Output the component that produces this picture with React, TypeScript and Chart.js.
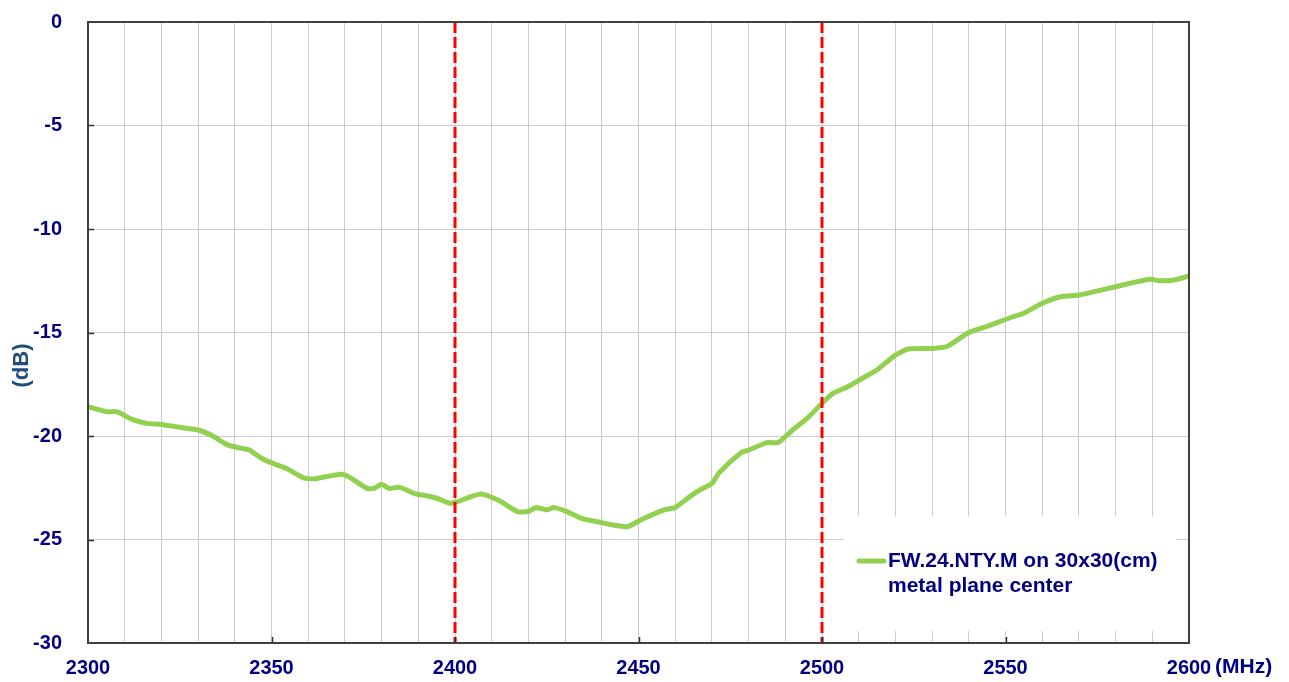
import React, { useEffect, useRef } from "react";
import { Chart, registerables } from "chart.js";

Chart.register(...registerables);

const freqMHz = [
  2300, 2305, 2308, 2312, 2316, 2320, 2325, 2330, 2334, 2338, 2342, 2344, 2347, 2350,
  2354, 2359, 2362, 2365, 2369, 2371, 2376, 2378, 2380, 2382, 2385, 2389, 2392, 2395,
  2398.6, 2400.5, 2407, 2412, 2417, 2420, 2422, 2425, 2427, 2430.5, 2434.5, 2439.5, 2443,
  2447, 2451, 2457, 2460, 2464, 2467, 2470, 2472, 2478, 2480, 2485, 2488, 2490.5, 2492,
  2496, 2500, 2503, 2507, 2511, 2515, 2520, 2523.5, 2530, 2534, 2540, 2546, 2552, 2555,
  2560, 2565, 2570, 2576, 2580, 2585, 2589.5, 2592, 2596, 2600,
];
const returnLossDb = [
  -18.58, -18.83, -18.83, -19.2, -19.39, -19.44, -19.58, -19.71, -20.0, -20.43, -20.6, -20.68, -21.05, -21.3,
  -21.56, -22.04, -22.06, -21.96, -21.85, -21.96, -22.53, -22.53, -22.33, -22.53, -22.48, -22.78, -22.88, -23.0,
  -23.25, -23.18, -22.8, -23.12, -23.65, -23.65, -23.45, -23.57, -23.46, -23.65, -23.98, -24.17, -24.3,
  -24.38, -24.02, -23.57, -23.45, -22.93, -22.58, -22.29, -21.77, -20.8, -20.68, -20.32, -20.32, -19.95, -19.71,
  -19.14, -18.42, -17.94, -17.62, -17.21, -16.81, -16.09, -15.8, -15.77, -15.68, -15.0, -14.64, -14.24, -14.07,
  -13.59, -13.27, -13.19, -12.95, -12.79, -12.58, -12.43, -12.5, -12.46, -12.27,
];
const markerFreqs = [2400, 2500];
const legendLines = ["FW.24.NTY.M on 30x30(cm)", "metal plane center"];
const xUnit = "(MHz)";
const yTitle = "(dB)";

const NAVY = "#000080";
const FONT = "Arial, 'Liberation Sans', sans-serif";

const legendLeft = (chart: any) => chart.chartArea.right - 345;

const decorPlugin = {
  id: "decor",
  beforeDatasetsDraw(chart: any) {
    const { ctx, chartArea } = chart;
    ctx.save();
    ctx.fillStyle = "#ffffff";
    const lx = legendLeft(chart);
    ctx.fillRect(lx, chartArea.bottom - 127, chartArea.right - 13 - lx, 115);
    ctx.restore();
  },
  afterDraw(chart: any) {
    const { ctx, chartArea } = chart;
    const xs = chart.scales.x;
    const ys = chart.scales.y;
    ctx.save();
    // inward major ticks
    ctx.strokeStyle = "#303030";
    ctx.lineWidth = 1.5;
    for (let v = -25; v <= -5; v += 5) {
      const py = Math.round(ys.getPixelForValue(v)) + 0.5;
      ctx.beginPath();
      ctx.moveTo(chartArea.left, py);
      ctx.lineTo(chartArea.left + 6, py);
      ctx.stroke();
    }
    for (let v = 2350; v <= 2550; v += 50) {
      const px = Math.round(xs.getPixelForValue(v)) + 0.5;
      ctx.beginPath();
      ctx.moveTo(px, chartArea.bottom);
      ctx.lineTo(px, chartArea.bottom - 6);
      ctx.stroke();
    }
    // plot border
    ctx.strokeStyle = "#404040";
    ctx.lineWidth = 2;
    ctx.strokeRect(chartArea.left, chartArea.top, chartArea.right - chartArea.left, chartArea.bottom - chartArea.top);

    // legend
    const lx = legendLeft(chart);
    const ly1 = chartArea.bottom - 82;
    ctx.strokeStyle = "#92D050";
    ctx.lineWidth = 5;
    ctx.lineCap = "round";
    ctx.beginPath();
    ctx.moveTo(lx + 15, ly1);
    ctx.lineTo(lx + 40, ly1);
    ctx.stroke();
    ctx.fillStyle = NAVY;
    ctx.font = `bold 21px ${FONT}`;
    ctx.textAlign = "left";
    ctx.textBaseline = "middle";
    ctx.fillText(legendLines[0], lx + 44, ly1);
    ctx.fillText(legendLines[1], lx + 44, ly1 + 25);

    // x unit
    ctx.font = `bold 21px ${FONT}`;
    ctx.fillText(xUnit, chartArea.right + 26, chartArea.bottom + 24);

    // y title
    ctx.fillStyle = "#1F4E79";
    ctx.font = `bold 22px ${FONT}`;
    ctx.translate(22, (chartArea.top + chartArea.bottom) / 2 + 33);
    ctx.rotate(-Math.PI / 2);
    ctx.textAlign = "center";
    ctx.fillText(yTitle, 0, 0);
    ctx.restore();
  },
};

export default function App() {
  const ref = useRef<HTMLCanvasElement | null>(null);
  useEffect(() => {
    if (!ref.current) return;
    const points = freqMHz.map((f, i) => ({ x: f, y: returnLossDb[i] }));
    const markerSets = markerFreqs.map((f) => ({
      label: `m${f}`,
      data: [
        { x: f, y: 0 },
        { x: f, y: -30 },
      ],
      borderColor: "#FF0000",
      borderWidth: 3,
      borderDash: [11, 4],
      pointRadius: 0,
      order: 0,
    }));
    const chart = new Chart(ref.current, {
      type: "line",
      data: {
        datasets: [
          ...markerSets,
          {
            label: legendLines.join(" "),
            data: points,
            borderColor: "#92D050",
            borderWidth: 5,
            pointRadius: 0,
            tension: 0.2,
            order: 1,
          },
        ],
      },
      options: {
        animation: false,
        responsive: false,
        devicePixelRatio: 1,
        layout: { padding: { top: 22, right: 100, left: 0, bottom: 0 } },
        plugins: { legend: { display: false }, tooltip: { enabled: false } },
        scales: {
          x: {
            type: "linear",
            min: 2300,
            max: 2600,
            afterFit: (s: any) => {
              s.height = 39;
              s.paddingLeft = 0;
              s.paddingRight = 0;
            },
            ticks: {
              stepSize: 10,
              autoSkip: false,
              maxRotation: 0,
              padding: 13,
              color: NAVY,
              font: { family: FONT, size: 20, weight: "bold" },
              callback: (v: any) => (Number(v) % 50 === 0 ? String(v) : ""),
            },
            grid: { color: "#cccccc", lineWidth: 1, drawTicks: false },
            border: { display: false },
          },
          y: {
            type: "linear",
            min: -30,
            max: 0,
            afterFit: (s: any) => {
              s.width = 88;
              s.paddingTop = 0;
              s.paddingBottom = 0;
            },
            ticks: {
              stepSize: 5,
              padding: 26,
              color: NAVY,
              font: { family: FONT, size: 20, weight: "bold" },
            },
            grid: { color: "#cccccc", lineWidth: 1, drawTicks: false },
            border: { display: false },
          },
        },
      },
      plugins: [decorPlugin],
    });
    return () => chart.destroy();
  }, []);
  return (
    <div style={{ position: "absolute", left: 0, top: 0, width: 1289, height: 682, background: "#fff" }}>
      <canvas ref={ref} width={1289} height={682} style={{ display: "block" }} />
    </div>
  );
}
